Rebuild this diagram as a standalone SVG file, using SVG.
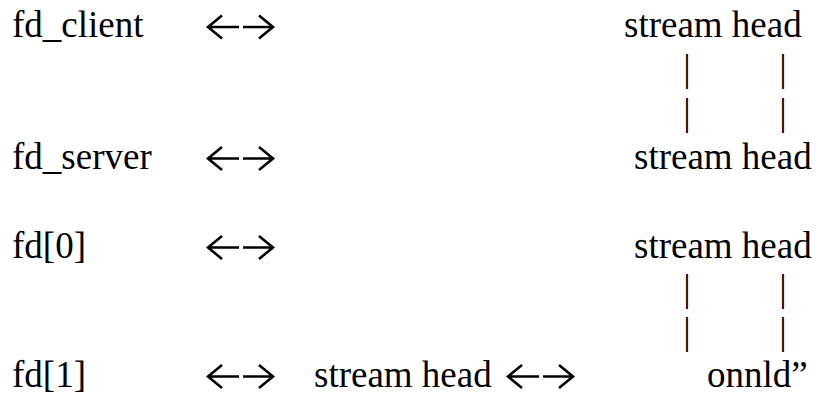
<svg xmlns="http://www.w3.org/2000/svg" width="816" height="396" viewBox="0 0 816 396">
  <style>
    .t { font-family: "Liberation Serif", "Times New Roman", serif; font-size: 37px; fill: #000; }
    .bar { font-family: "Liberation Serif", "Times New Roman", serif; font-size: 37px; fill: #000; text-anchor: middle; }
    .link { fill: none; stroke: #000; stroke-width: 2.6; stroke-linejoin: miter; stroke-linecap: butt; }
  </style>
  <defs>
    <!-- double arrow: left tip at origin, shaft on y = 0 -->
    <g id="biarrow" class="link">
      <path d="M1,0 H32 M15,-11.5 L1,0 L15,11.5"/>
      <path d="M36,0 H66 M52,-11.5 L66,0 L52,11.5"/>
    </g>
  </defs>
  <rect width="816" height="396" fill="#fff"/>

  <!-- descriptors on the left -->
  <g id="fd_client"><text class="t" x="12" y="37">fd_client</text></g>
  <g id="fd_server"><text class="t" x="12" y="169">fd_server</text></g>
  <g id="fd0"><text class="t" x="12" y="258">fd[0]</text></g>
  <g id="fd1"><text class="t" x="12" y="387">fd[1]</text></g>

  <!-- stream heads -->
  <g id="head_client"><text class="t" x="624" y="37">stream head</text></g>
  <g id="head_server"><text class="t" x="634" y="169">stream head</text></g>
  <g id="head_pipe0"><text class="t" x="634" y="258">stream head</text></g>
  <g id="head_pipe1"><text class="t" x="314" y="387">stream head</text></g>
  <g id="onnld"><text class="t" x="707" y="387">onnld”</text></g>

  <!-- links between descriptors and stream heads -->
  <g id="connectors">
    <use href="#biarrow" x="207" y="27"/>
    <use href="#biarrow" x="207" y="158.5"/>
    <use href="#biarrow" x="207" y="247.5"/>
    <use href="#biarrow" x="207" y="376.5"/>
    <use href="#biarrow" x="507" y="376.5"/>

    <text class="bar" x="687" y="81">|</text>
    <text class="bar" x="783" y="81">|</text>
    <text class="bar" x="687" y="125">|</text>
    <text class="bar" x="783" y="125">|</text>
    <text class="bar" x="687" y="301">|</text>
    <text class="bar" x="783" y="301">|</text>
    <text class="bar" x="687" y="344">|</text>
    <text class="bar" x="783" y="344">|</text>
  </g>
</svg>
